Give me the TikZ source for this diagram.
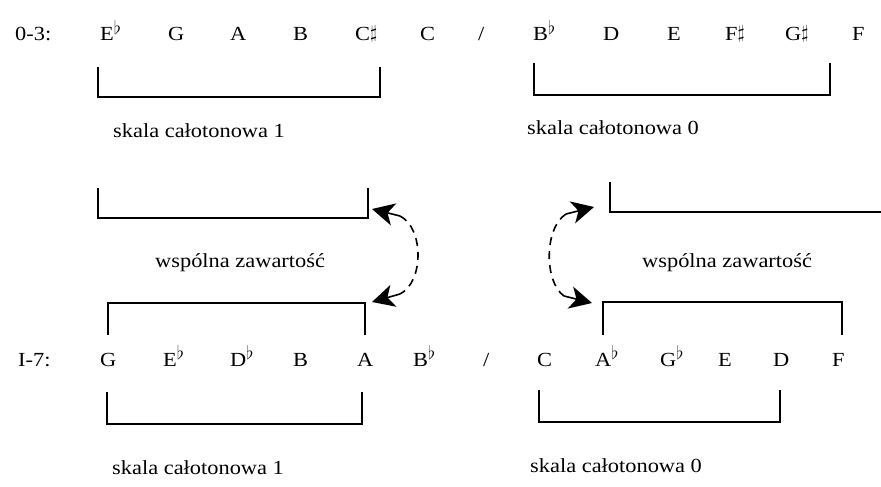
\documentclass[tikz,border=0pt]{standalone}
\usepackage{fontspec}
\setmainfont{Liberation Serif}[FakeStretch=1.12]
\usetikzlibrary{calc}
\newcommand{\myflat}{\raisebox{0.32em}{\scalebox{0.9}{$\flat$}}}
\newcommand{\mysharp}{\raisebox{0.1em}{\scalebox{0.9}{$\sharp$}}}
\newcommand{\myhead}[2]{\fill (#1) -- ($(#1)!25pt!27:(#2)$) -- ($(#1)!16pt!(#2)$) -- ($(#1)!25pt!-27:(#2)$) -- cycle;}
\begin{document}
\begin{tikzpicture}[x=1pt,y=-1pt,
  every node/.style={inner sep=0pt,font=\fontsize{20}{24}\selectfont},
  note/.style={anchor=base west},
  brk/.style={line width=1.3pt},
  link/.style={line width=1.6pt,dash pattern=on 8pt off 6pt}]
\useasboundingbox (0,0) rectangle (881,487);
% row 1
\node[note] (l1) at (15,41) {0-3:};
\node[note] (p1) at (100,41) {E\myflat};
\node[note] (p2) at (168,41) {G};
\node[note] (p3) at (230,41) {A};
\node[note] (p4) at (293,41) {B};
\node[note] (p5) at (355,41) {C\mysharp};
\node[note] (p6) at (420,41) {C};
\node[note] (s1) at (478,41) {/};
\node[note] (p7) at (533,41) {B\myflat};
\node[note] (p8) at (603,41) {D};
\node[note] (p9) at (667,41) {E};
\node[note] (p10) at (725,41) {F\mysharp};
\node[note] (p11) at (785,41) {G\mysharp};
\node[note] (p12) at (852,41) {F};
% top brackets
\draw[brk] (98,67) -- (98,97) -- (380,97) -- (380,67);
\draw[brk] (534,63) -- (534,95) -- (830,95) -- (830,63);
\node[note] (t1) at (113,137) {skala całotonowa 1};
\node[note] (t2) at (527,134) {skala całotonowa 0};
% middle
\draw[brk] (98,188) -- (98,218) -- (368,218) -- (368,188);
\draw[brk] (610,182) -- (610,212) -- (881,212);
\node[note] (w1) at (155,267) {wspólna zawartość};
\node[note] (w2) at (642,267) {wspólna zawartość};
\draw[brk] (108,335) -- (108,303) -- (365,303) -- (365,335);
\draw[brk] (603,335) -- (603,302) -- (842,302) -- (842,335);
\coordinate (aL1) at (372,209);
\coordinate (aL2) at (372,302);
\coordinate (cL1) at (400,216);
\coordinate (cL2) at (400,294);
\coordinate (aR1) at (594,207);
\coordinate (aR2) at (592,303);
\coordinate (cR1) at (566,214);
\coordinate (cR2) at (564,296);
\draw[link] (cL1) .. controls (424,228) and (424,282) .. (cL2);
\draw[link] (cR1) .. controls (544,228) and (544,282) .. (cR2);
\draw[line width=1.6pt] (cL1) -- ($(aL1)!14pt!(cL1)$);
\draw[line width=1.6pt] (cL2) -- ($(aL2)!14pt!(cL2)$);
\draw[line width=1.6pt] (cR1) -- ($(aR1)!14pt!(cR1)$);
\draw[line width=1.6pt] (cR2) -- ($(aR2)!14pt!(cR2)$);
\myhead{aL1}{cL1}
\myhead{aL2}{cL2}
\myhead{aR1}{cR1}
\myhead{aR2}{cR2}
% row 2
\node[note] (l2) at (18,366) {I-7:};
\node[note] (q1) at (100,366) {G};
\node[note] (q2) at (163,366) {E\myflat};
\node[note] (q3) at (230,366) {D\myflat};
\node[note] (q4) at (293,366) {B};
\node[note] (q5) at (357,366) {A};
\node[note] (q6) at (413,366) {B\myflat};
\node[note] (s2) at (483,366) {/};
\node[note] (q7) at (537,366) {C};
\node[note] (q8) at (595,366) {A\myflat};
\node[note] (q9) at (660,366) {G\myflat};
\node[note] (q10) at (718,366) {E};
\node[note] (q11) at (773,366) {D};
\node[note] (q12) at (832,366) {F};
% bottom brackets
\draw[brk] (107,392) -- (107,424) -- (362,424) -- (362,392);
\draw[brk] (539,390) -- (539,422) -- (780,422) -- (780,390);
\node[note] (b1) at (112,474) {skala całotonowa 1};
\node[note] (b2) at (530,472) {skala całotonowa 0};
\end{tikzpicture}
\end{document}
